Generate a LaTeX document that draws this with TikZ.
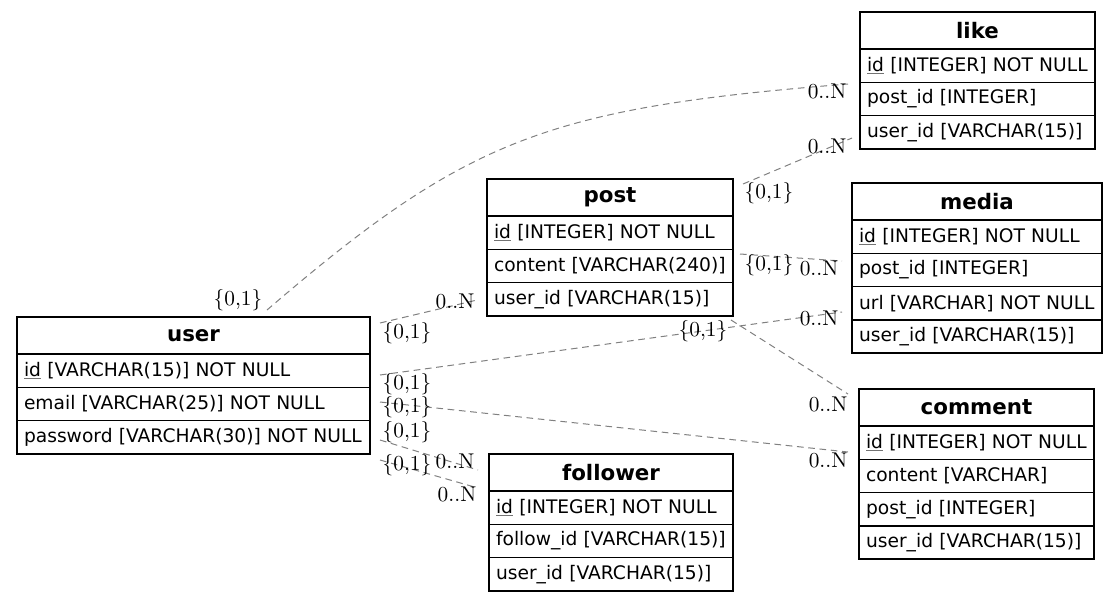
\documentclass[tikz,border=0pt]{standalone}
\usepackage{fontspec}
\newfontfamily\tabfont{DejaVu Sans}
\newfontfamily\cardfont{lmroman10-regular.otf}
\usetikzlibrary{calc}
\newcommand\pkid{{\color{black!55}\underline{\color{black}id}}}
\tikzset{
  tbl/.style={draw=black, line width=1.2pt, inner sep=0pt, outer sep=0pt, anchor=north west},
  ttl/.style={tbl, minimum height=27.75pt, font=\tabfont\bfseries\fontsize{16}{19}\selectfont},
  fld/.style={tbl, minimum height=24.98pt, inner xsep=5.25pt, align=left, font=\tabfont\fontsize{14}{17}\selectfont},
  rel/.style={draw=black!50, line width=0.75pt, dash pattern=on 5pt off 3.5pt},
  card/.style={inner sep=0pt, font=\cardfont\fontsize{16}{19}\selectfont},
}
\begin{document}
\begin{tikzpicture}[x=0.75pt,y=-0.75pt]
\useasboundingbox (0,0) rectangle (1119,601);
% like
\node[ttl, minimum width=176.25pt] (like-t) at (860,12) {like};
\node[fld, text width=165.75pt] (like-1) at (like-t.south west) {\mbox{\pkid{} [INTEGER] NOT NULL}};
\node[fld, text width=165.75pt] (like-2) at (like-1.south west) {\mbox{post\_id [INTEGER]}};
\node[fld, text width=165.75pt] (like-3) at (like-2.south west) {\mbox{user\_id [VARCHAR(15)]}};
% media
\node[ttl, minimum width=187.5pt] (media-t) at (852,183) {media};
\node[fld, text width=177pt] (media-1) at (media-t.south west) {\mbox{\pkid{} [INTEGER] NOT NULL}};
\node[fld, text width=177pt] (media-2) at (media-1.south west) {\mbox{post\_id [INTEGER]}};
\node[fld, text width=177pt] (media-3) at (media-2.south west) {\mbox{url [VARCHAR] NOT NULL}};
\node[fld, text width=177pt] (media-4) at (media-3.south west) {\mbox{user\_id [VARCHAR(15)]}};
% post
\node[ttl, minimum width=184.5pt] (post-t) at (487,179) {post};
\node[fld, text width=174pt] (post-1) at (post-t.south west) {\mbox{\pkid{} [INTEGER] NOT NULL}};
\node[fld, text width=174pt] (post-2) at (post-1.south west) {\mbox{content [VARCHAR(240)]}};
\node[fld, text width=174pt] (post-3) at (post-2.south west) {\mbox{user\_id [VARCHAR(15)]}};
% user
\node[ttl, minimum width=264.75pt] (user-t) at (17,317) {user};
\node[fld, text width=254.25pt] (user-1) at (user-t.south west) {\mbox{\pkid{} [VARCHAR(15)] NOT NULL}};
\node[fld, text width=254.25pt] (user-2) at (user-1.south west) {\mbox{email [VARCHAR(25)] NOT NULL}};
\node[fld, text width=254.25pt] (user-3) at (user-2.south west) {\mbox{password [VARCHAR(30)] NOT NULL}};
% comment
\node[ttl, minimum width=176.25pt] (comment-t) at (859,389) {comment};
\node[fld, text width=165.75pt] (comment-1) at (comment-t.south west) {\mbox{\pkid{} [INTEGER] NOT NULL}};
\node[fld, text width=165.75pt] (comment-2) at (comment-1.south west) {\mbox{content [VARCHAR]}};
\node[fld, text width=165.75pt] (comment-3) at (comment-2.south west) {\mbox{post\_id [INTEGER]}};
\node[fld, text width=165.75pt] (comment-4) at (comment-3.south west) {\mbox{user\_id [VARCHAR(15)]}};
% follower
\node[ttl, minimum width=183pt] (follower-t) at (489,454) {follower};
\node[fld, text width=172.5pt] (follower-1) at (follower-t.south west) {\mbox{\pkid{} [INTEGER] NOT NULL}};
\node[fld, text width=172.5pt] (follower-2) at (follower-1.south west) {\mbox{follow\_id [VARCHAR(15)]}};
\node[fld, text width=172.5pt] (follower-3) at (follower-2.south west) {\mbox{user\_id [VARCHAR(15)]}};

% edge end points
\coordinate (e1a) at ($(user-t.north west)+(250,-7)$);
\coordinate (e1b) at ($(like-t.north west)+(-12,72)$);
\coordinate (e2a) at ($(user-t.north east)+(10,6)$);
\coordinate (e2b) at ($(post-t.north west)+(-10,121)$);
\coordinate (e3a) at ($(post-t.north east)+(10,5)$);
\coordinate (e3b) at ($(like-t.north west)+(-8,126)$);
\coordinate (e4a) at ($(post-t.north east)+(7,75)$);
\coordinate (e4b) at ($(media-t.north west)+(-10,78)$);
\coordinate (e5a) at ($(user-t.north east)+(10,58)$);
\coordinate (e5b) at ($(media-t.north west)+(-10,129)$);
\coordinate (e6a) at ($(post-t.north east)+(-2,141)$);
\coordinate (e6b) at ($(comment-t.north west)+(-11,5)$);
\coordinate (e7a) at ($(user-t.north east)+(10,85)$);
\coordinate (e7b) at ($(comment-t.north west)+(-11,63)$);
\coordinate (e8a) at ($(user-t.north east)+(10,123)$);
\coordinate (e8b) at ($(follower-t.north west)+(-11,16)$);
\coordinate (e9a) at ($(user-t.north east)+(10,143)$);
\coordinate (e9b) at ($(follower-t.north west)+(-11,34)$);

\draw[rel] (e1a) .. controls +(200,-172) and +(-300,24) .. (e1b);
\draw[rel] (e2a) -- (e2b);
\draw[rel] (e3a) -- (e3b);
\draw[rel] (e4a) -- (e4b);
\draw[rel] (e5a) -- (e5b);
\draw[rel] (e6a) -- (e6b);
\draw[rel] (e7a) -- (e7b);
\draw[rel] (e8a) -- (e8b);
\draw[rel] (e9a) -- (e9b);

% cardinality labels
\node[card] (l1a) at (238,300) {\{0,1\}};
\node[card] (l1b) at (827,91) {0..N};
\node[card] (l2a) at (407,333) {\{0,1\}};
\node[card] (l2b) at (455,301) {0..N};
\node[card] (l3a) at (769,193) {\{0,1\}};
\node[card] (l3b) at (827,146) {0..N};
\node[card] (l4a) at (769,265) {\{0,1\}};
\node[card] (l4b) at (819,268) {0..N};
\node[card] (l5a) at (407,384) {\{0,1\}};
\node[card] (l5b) at (819,318) {0..N};
\node[card] (l6a) at (703,331) {\{0,1\}};
\node[card] (l6b) at (828,404) {0..N};
\node[card] (l7a) at (407,407) {\{0,1\}};
\node[card] (l7b) at (828,460) {0..N};
\node[card] (l8a) at (407,432) {\{0,1\}};
\node[card] (l8b) at (455,461) {0..N};
\node[card] (l9a) at (407,465) {\{0,1\}};
\node[card] (l9b) at (457,494) {0..N};
\end{tikzpicture}
\end{document}
